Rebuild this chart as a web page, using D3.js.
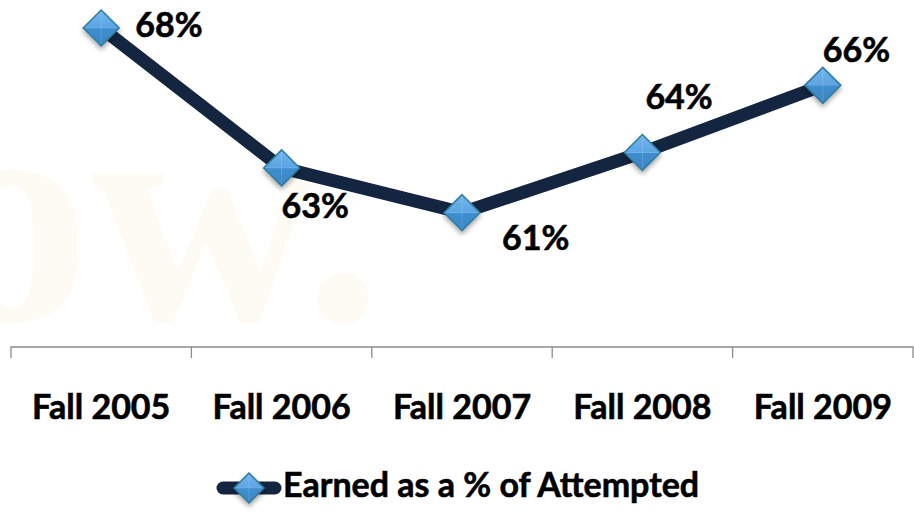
<!DOCTYPE html>
<html>
<head>
<meta charset="utf-8">
<script src="https://cdn.jsdelivr.net/npm/d3@7"></script>
<style>
  body { margin: 0; background: #fff; }
  svg { display: block; }
</style>
</head>
<body>
<div id="chart"></div>
<script>
// Data
const categories = ['Fall 2005', 'Fall 2006', 'Fall 2007', 'Fall 2008', 'Fall 2009'];
const earnedPct = [68.0, 63.0, 61.4, 63.55, 65.95];
const seriesName = 'Earned as a % of Attempted';

// label placement relative to each point (moved by hand in the original)
const labelOffsets = [[34, 0], [0, 41], [40, 29], [3, -52], [0, -32]];

const width = 914, height = 512;
const margin = { top: 0, right: 1, bottom: 179, left: 11 };
const font = 'Lato, "Open Sans", sans-serif';
const fontSize = 34;

const svg = d3.select('#chart')
    .append('svg')
    .attr('width', width)
    .attr('height', height);

const defs = svg.append('defs');
const grad = defs.append('linearGradient')
    .attr('id', 'diamond-fill')
    .attr('x1', '0%').attr('x2', '0%')
    .attr('y1', '0%').attr('y2', '100%');
grad.append('stop').attr('offset', '0%').attr('stop-color', '#74b6ee');
grad.append('stop').attr('offset', '50%').attr('stop-color', '#5aa4e2');
grad.append('stop').attr('offset', '50%').attr('stop-color', '#3f8fd0');
grad.append('stop').attr('offset', '100%').attr('stop-color', '#3a86c4');

const shadow = defs.append('filter')
    .attr('id', 'shadow')
    .attr('x', '-50%').attr('y', '-50%')
    .attr('width', '200%').attr('height', '200%');
shadow.append('feDropShadow')
    .attr('dx', 0).attr('dy', 3)
    .attr('stdDeviation', 2.5)
    .attr('flood-color', '#000')
    .attr('flood-opacity', 0.35);

// faint watermark behind the plot
svg.append('text')
    .attr('x', -68)
    .attr('y', 320)
    .attr('font-family', '"Liberation Serif", serif')
    .attr('font-weight', 'bold')
    .attr('font-size', 318)
    .attr('fill', '#fdfbf3')
    .text('ow.');

const x = d3.scaleBand()
    .domain(categories)
    .range([margin.left, width - margin.right]);

const y = d3.scaleLinear()
    .domain([57.1, 69])
    .range([height - margin.bottom, margin.top]);

const axisY = 347;

function boldText(sel) {
    return sel
        .attr('font-family', font)
        .attr('font-weight', 'bold')
        .attr('font-size', fontSize)
        .attr('fill', '#000')
        .attr('stroke', '#000')
        .attr('stroke-width', 0.6);
}

// X axis
const xAxis = svg.append('g')
    .attr('transform', `translate(0, ${axisY})`)
    .call(d3.axisBottom(x).tickSize(0).tickFormat(''));
xAxis.select('.domain')
    .attr('d', `M${margin.left},11V0H${width - margin.right}V11`)
    .attr('stroke', '#8c8c8c')
    .attr('stroke-width', 1.3);

// category boundary ticks
svg.append('g')
    .selectAll('line')
    .data(categories.slice(1))
    .join('line')
    .attr('x1', d => x(d))
    .attr('x2', d => x(d))
    .attr('y1', axisY)
    .attr('y2', axisY + 11)
    .attr('stroke', '#8c8c8c')
    .attr('stroke-width', 1.3);

svg.append('g')
    .selectAll('text')
    .data(categories)
    .join('text')
    .attr('x', d => x(d) + x.bandwidth() / 2)
    .attr('y', 419)
    .attr('text-anchor', 'middle')
    .call(boldText)
    .text(d => d);

// Line
const line = d3.line()
    .x((d, i) => x(categories[i]) + x.bandwidth() / 2)
    .y(d => y(d));

svg.append('path')
    .datum(earnedPct)
    .attr('d', line)
    .attr('fill', 'none')
    .attr('stroke', '#13253f')
    .attr('stroke-width', 13)
    .attr('stroke-linejoin', 'round');

function diamond(g, r) {
    g.append('path')
        .attr('d', `M0,${-r}L${r},0L0,${r}L${-r},0Z`)
        .attr('fill', 'url(#diamond-fill)')
        .attr('stroke', '#2f7c9c')
        .attr('stroke-width', 1.5)
        .attr('filter', 'url(#shadow)');
    // faint facet lines
    g.append('path')
        .attr('d', `M${-r + 2},0L${r - 2},0M0,${-r + 2}L0,${r - 2}`)
        .attr('stroke', '#ffffff')
        .attr('stroke-opacity', 0.15)
        .attr('stroke-width', 1);
}

// Markers
svg.append('g')
    .selectAll('g')
    .data(earnedPct)
    .join('g')
    .attr('transform', (d, i) => `translate(${x(categories[i]) + x.bandwidth() / 2}, ${y(d)})`)
    .each(function () { diamond(d3.select(this), 18); });

// Data labels
svg.append('g')
    .selectAll('text')
    .data(earnedPct)
    .join('text')
    .attr('x', (d, i) => x(categories[i]) + x.bandwidth() / 2 + labelOffsets[i][0])
    .attr('y', (d, i) => y(d) + labelOffsets[i][1])
    .attr('dominant-baseline', 'middle')
    .call(boldText)
    .text(d => Math.round(d) + '%');

// Legend
const legend = svg.append('g').attr('transform', 'translate(249, 488)');
legend.append('line')
    .attr('x1', -26).attr('x2', 26)
    .attr('y1', 0).attr('y2', 0)
    .attr('stroke', '#13253f')
    .attr('stroke-width', 13)
    .attr('stroke-linecap', 'round');
diamond(legend, 15);
legend.append('text')
    .attr('x', 34)
    .attr('y', 0)
    .attr('dominant-baseline', 'middle')
    .call(boldText)
    .text(seriesName);
</script>
</body>
</html>
